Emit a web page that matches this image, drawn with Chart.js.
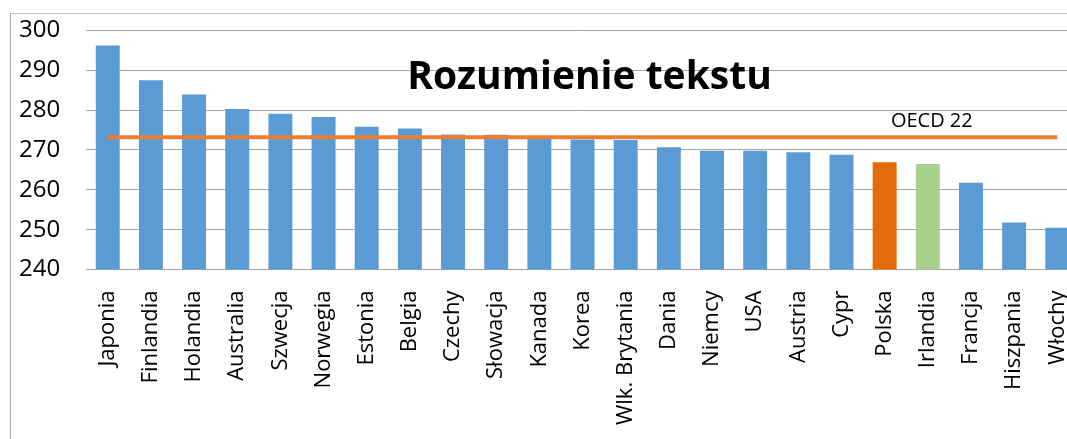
<!DOCTYPE html>
<html>
<head>
<meta charset="utf-8">
<script src="https://cdn.jsdelivr.net/npm/chart.js@4/dist/chart.umd.min.js"></script>
<style>
  html, body { margin: 0; padding: 0; background: #fff; overflow: hidden; }
  #wrap { position: relative; width: 1067px; height: 439px; overflow: hidden; }
  #frame { position: absolute; left: 10px; top: 13px; width: 2000px; height: 1000px;
           border-left: 1px solid #a6a6a6; border-top: 1px solid #bfbfbf; }
  #holder { position: absolute; left: -27px; top: -10px; width: 1124px; height: 448px; }
</style>
</head>
<body>
<div id="wrap">
  <div id="frame"></div>
  <div id="holder"><canvas id="myChart"></canvas></div>
</div>
<script>
// Chart data
var countries = ['Japonia', 'Finlandia', 'Holandia', 'Australia', 'Szwecja', 'Norwegia', 'Estonia',
    'Belgia', 'Czechy', 'Słowacja', 'Kanada', 'Korea', 'Wlk. Brytania', 'Dania', 'Niemcy', 'USA',
    'Austria', 'Cypr', 'Polska', 'Irlandia', 'Francja', 'Hiszpania', 'Włochy'];
var scores = [296.2, 287.5, 283.9, 280.3, 279.1, 278.3, 275.8,
    275.4, 273.9, 273.8, 273.5, 272.6, 272.5, 270.7, 269.8, 269.8,
    269.4, 268.8, 266.9, 266.5, 261.8, 251.8, 250.5];
var oecdAverage = 273.2;
var oecdLabel = 'OECD 22';
var chartTitle = 'Rozumienie tekstu';
var yTicks = [240, 250, 260, 270, 280, 290, 300];

// Bar colours: Polska and Irlandia highlighted
var barColors = countries.map(function(c) {
    if (c === 'Polska') return '#E36C0A';
    if (c === 'Irlandia') return '#A9D18E';
    return '#5B9BD5';
});
var oecdLine = countries.map(function() { return oecdAverage; });

// Title and OECD label drawn on top of the plot
var overlayText = {
    id: 'overlayText',
    afterDatasetsDraw: function(chart) {
        var ctx = chart.ctx;
        var area = chart.chartArea;
        var x = chart.scales.x;
        var y = chart.scales.y;
        ctx.save();
        ctx.fillStyle = '#000';
        ctx.textAlign = 'center';
        ctx.textBaseline = 'middle';
        ctx.font = 'bold 39px "Open Sans"';
        ctx.fillText(chartTitle, area.left + (area.right - area.left) * 0.507, area.top + (area.bottom - area.top) * 0.2);
        ctx.font = '20px "Open Sans"';
        ctx.textBaseline = 'alphabetic';
        ctx.fillText(oecdLabel, x.getPixelForValue(19) + 4, y.getPixelForValue(oecdAverage) - 10);
        ctx.restore();
    }
};

var ctx = document.getElementById('myChart').getContext('2d');
var myChart = new Chart(ctx, {
    type: 'bar',
    data: {
        labels: countries,
        datasets: [{
            type: 'line',
            label: oecdLabel,
            data: oecdLine,
            borderColor: '#ED7D31',
            borderWidth: 4,
            pointRadius: 0,
            order: 0
        },
        {
            label: chartTitle,
            data: scores,
            backgroundColor: barColors,
            categoryPercentage: 1,
            barPercentage: 0.555,
            order: 1
        }]
    },
    plugins: [overlayText],
    options: {
        responsive: true,
        maintainAspectRatio: false,
        animation: false,
        layout: { padding: { left: 20, right: 14, top: 8, bottom: 0 } },
        plugins: {
            legend: { display: false },
            tooltip: { enabled: false }
        },
        scales: {
            x: {
                grid: { display: false },
                border: { display: true, color: '#a6a6a6' },
                ticks: {
                    color: '#000',
                    font: { family: 'Open Sans', size: 22 },
                    minRotation: 90,
                    maxRotation: 90,
                    autoSkip: false,
                    padding: 13
                }
            },
            y: {
                min: 240,
                max: 300,
                afterBuildTicks: function(axis) {
                    axis.ticks = yTicks.map(function(v) { return { value: v }; });
                },
                grid: { color: '#a6a6a6', drawTicks: false },
                border: { display: false },
                ticks: {
                    color: '#000',
                    font: { family: 'Open Sans', size: 24 },
                    padding: 26
                }
            }
        }
    }
});
</script>
</body>
</html>
